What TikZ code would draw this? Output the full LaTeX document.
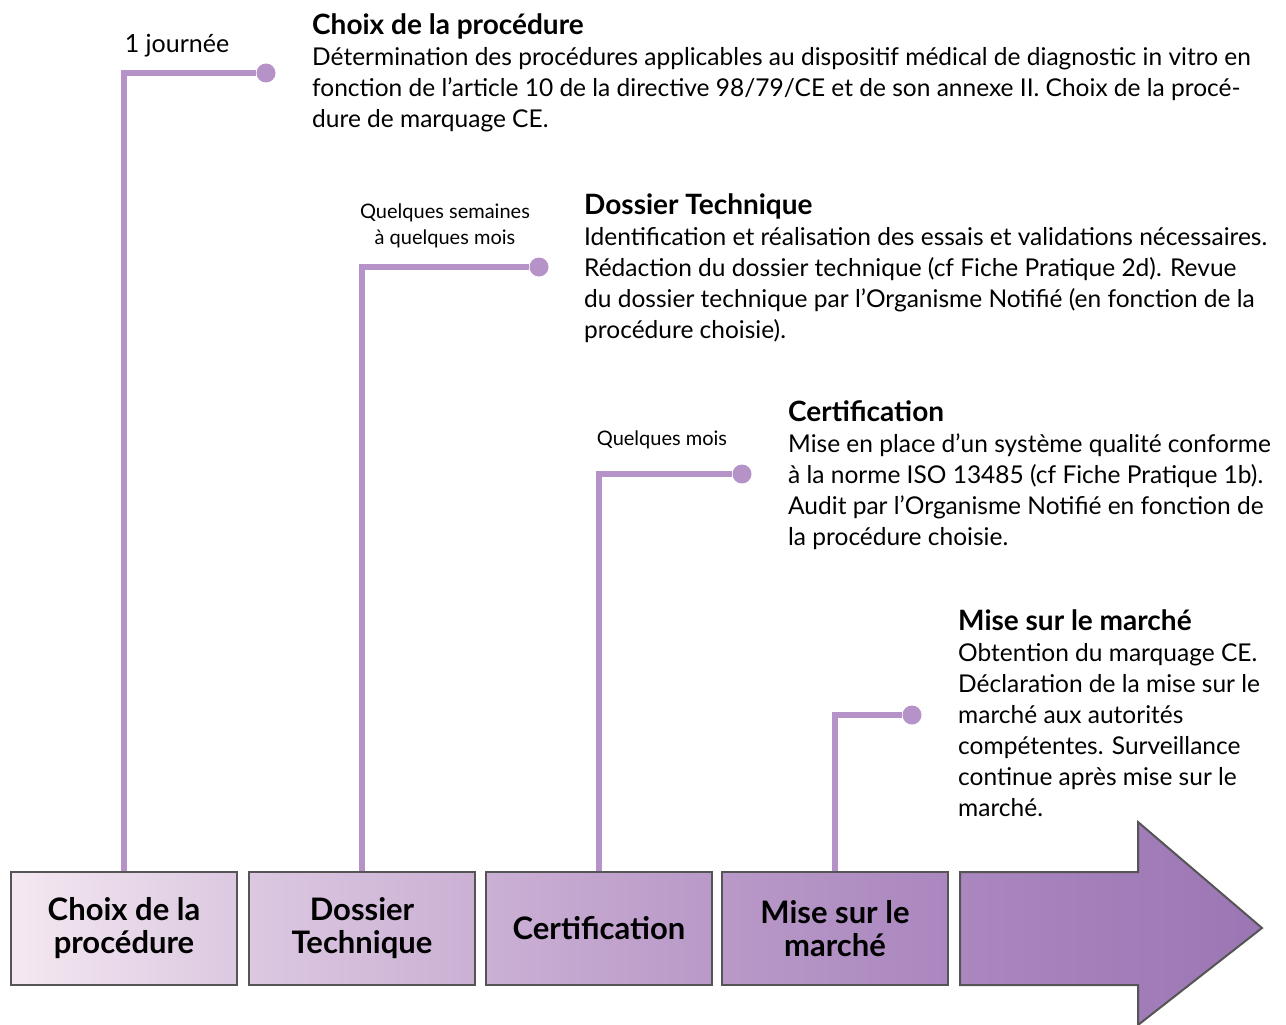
\documentclass[tikz,border=0pt]{standalone}
\usepackage{fontspec}
\setmainfont{Lato}
\definecolor{conncol}{HTML}{B593C8}
\definecolor{edgecol}{HTML}{555555}
\definecolor{gA}{HTML}{F4E8F1}
\definecolor{gB}{HTML}{DCC8E1}
\definecolor{gC}{HTML}{CBB0D4}
\definecolor{gD}{HTML}{B999C8}
\definecolor{gE}{HTML}{AA87BF}
\definecolor{gF}{HTML}{9B76B4}
\begin{document}
\begin{tikzpicture}[x=1pt,y=-1pt,
  stagebox/.style={draw=edgecol, line width=2pt, minimum width=226pt, minimum height=113pt,
    inner sep=0pt, align=center, font=\bfseries\fontsize{31}{33}\selectfont},
  conn/.style={draw=conncol, line width=6pt},
  enddot/.style={circle, fill=conncol, minimum size=19pt, inner sep=0pt},
  desc/.style={anchor=base west, inner sep=0pt, font=\fontsize{24.5}{31}\selectfont},
  dur/.style={anchor=base, inner sep=0pt, font=\fontsize{20}{26}\selectfont},
]
\useasboundingbox (0,0) rectangle (1286,1025);

% stage boxes
\node[stagebox, left color=gA, right color=gB] (b1) at (124,928.5) {Choix de la\\procédure};
\node[stagebox, left color=gB, right color=gC] (b2) at (362,928.5) {Dossier\\Technique};
\node[stagebox, left color=gC, right color=gD] (b3) at (599,928.5) {Certification};
\node[stagebox, left color=gD, right color=gE] (b4) at (835,928.5) {Mise sur le\\marché};
% big arrow
\path[draw=edgecol, line width=2pt, left color=gE, right color=gF]
  (960,872) -- (1138,872) -- (1138,822) -- (1262,928) -- (1138,1025) -- (1138,985) -- (960,985) -- cycle;

% end dots
\node[enddot] (d1) at (266,73) {};
\node[enddot] (d2) at (539,267) {};
\node[enddot] (d3) at (742,474) {};
\node[enddot] (d4) at (912,715) {};

% connectors
\draw[conn] (b1.north) |- (d1);
\draw[conn] (b2.north) |- (d2);
\draw[conn] (b3.north) |- (d3);
\draw[conn] (b4.north) |- (d4);

% durations
\node[dur, font=\fontsize{25}{31}\selectfont] (t1) at (177,53) {1 journée};
\node[dur] (t2) at (445,218) {\vtop{\baselineskip=26pt\halign{\hfil#\hfil\cr Quelques semaines\cr à quelques mois\cr}}};
\node[dur] (t3) at (662,445) {Quelques mois};

% descriptions
\node[desc] (x1) at (312,35) {\vtop{\baselineskip=31pt
  \hbox{\bfseries\fontsize{28}{31}\selectfont Choix de la procédure}
  \hbox{Détermination des procédures applicables au dispositif médical de diagnostic in vitro en}
  \hbox{fonction de l’article 10 de la directive 98/79/CE et de son annexe II. Choix de la procé-}
  \hbox{dure de marquage CE.}}};
\node[desc] (x2) at (584,214) {\vtop{\baselineskip=31pt
  \hbox{\bfseries\fontsize{28}{31}\selectfont Dossier Technique}
  \hbox{Identification et réalisation des essais et validations nécessaires.}
  \hbox{Rédaction du dossier technique (cf Fiche Pratique 2d). Revue}
  \hbox{du dossier technique par l’Organisme Notifié (en fonction de la}
  \hbox{procédure choisie).}}};
\node[desc] (x3) at (788,421) {\vtop{\baselineskip=31pt
  \hbox{\bfseries\fontsize{28}{31}\selectfont Certification}
  \hbox{Mise en place d’un système qualité conforme}
  \hbox{à la norme ISO 13485 (cf Fiche Pratique 1b).}
  \hbox{Audit par l’Organisme Notifié en fonction de}
  \hbox{la procédure choisie.}}};
\node[desc] (x4) at (958,630) {\vtop{\baselineskip=31pt
  \hbox{\bfseries\fontsize{28}{31}\selectfont Mise sur le marché}
  \hbox{Obtention du marquage CE.}
  \hbox{Déclaration de la mise sur le}
  \hbox{marché aux autorités}
  \hbox{compétentes. Surveillance}
  \hbox{continue après mise sur le}
  \hbox{marché.}}};
\end{tikzpicture}
\end{document}
